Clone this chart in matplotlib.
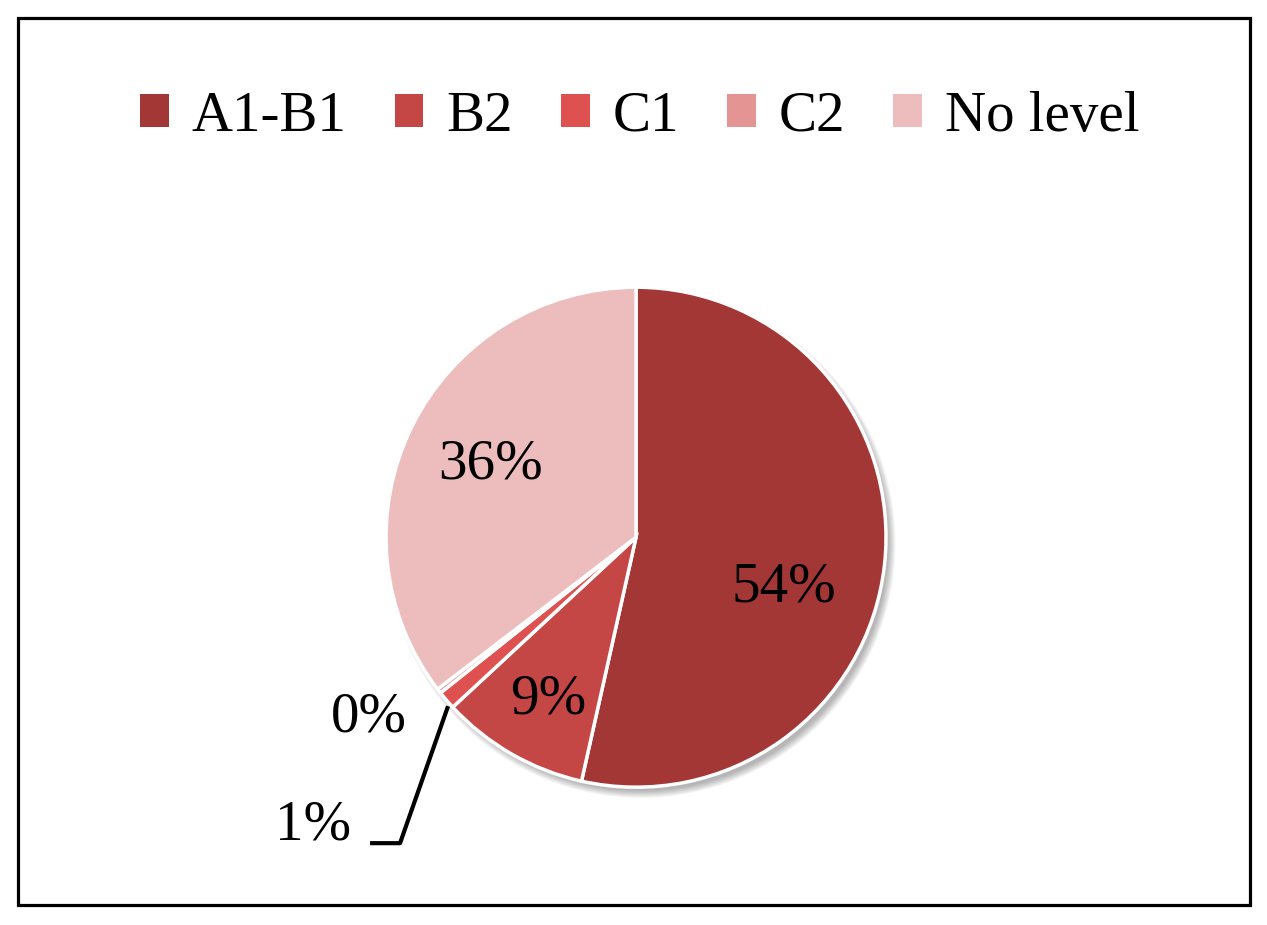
import matplotlib
matplotlib.use("Agg")
import matplotlib.pyplot as plt
from matplotlib.patches import Rectangle, Circle

levels = ["A1-B1", "B2", "C1", "C2", "No level"]
shares = [53.5, 9.6, 1.2, 0.3, 35.4]
pct_labels = ["54%", "9%", "1%", "0%", "36%"]
colors = ["#A33735", "#C44645", "#DE5150", "#E59494", "#EDBDBD"]

plt.rcParams['font.family'] = ['Liberation Serif', 'DejaVu Serif']

fig = plt.figure(figsize=(12.67, 9.25), dpi=100)
ax = fig.add_axes([0.3047, 0.149, 0.3946, 0.5405])

# soft shadow under the pie, mostly to the lower right
for i in range(8):
    ax.add_patch(Circle((0.02, -0.025), 0.99 + 0.004 * i, color="black",
                        alpha=0.04, lw=0, zorder=0, clip_on=False))

wedges, _ = ax.pie(shares, colors=colors, startangle=90, counterclock=False,
                   wedgeprops=dict(edgecolor="white", linewidth=2.5),
                   radius=1.0)
for w in wedges:
    w.set_zorder(2)
    w.set_clip_on(False)

fs = 41
label_pos = {"54%": (0.59, -0.2), "9%": (-0.35, -0.65), "36%": (-0.58, 0.29),
             "0%": (-1.07, -0.72), "1%": (-1.29, -1.155)}
for t in pct_labels:
    x, y = label_pos[t]
    ax.text(x, y, t, fontsize=fs, ha="center", va="center", zorder=5)

# leader line for the 1% slice
ax.plot([-0.752, -0.944, -1.064], [-0.676, -1.224, -1.224], color="black",
        lw=3, zorder=5, clip_on=False, solid_capstyle="butt")

ax.set_xlim(-1, 1)
ax.set_ylim(-1, 1)
ax.axis("off")

handles = [Rectangle((0, 0), 1, 1, facecolor=c, edgecolor="none") for c in colors]
fig.legend(handles, levels, loc="center", bbox_to_anchor=(0.505, 0.874), ncol=5,
           frameon=False, fontsize=fs, handlelength=0.5, handleheight=0.5,
           handletextpad=0.4, columnspacing=0.85)

fig.add_artist(Rectangle((0.0142, 0.0216), 0.9724, 0.959, transform=fig.transFigure,
                         fill=False, edgecolor="black", linewidth=2.3))

fig.savefig("out.png", dpi=100)
